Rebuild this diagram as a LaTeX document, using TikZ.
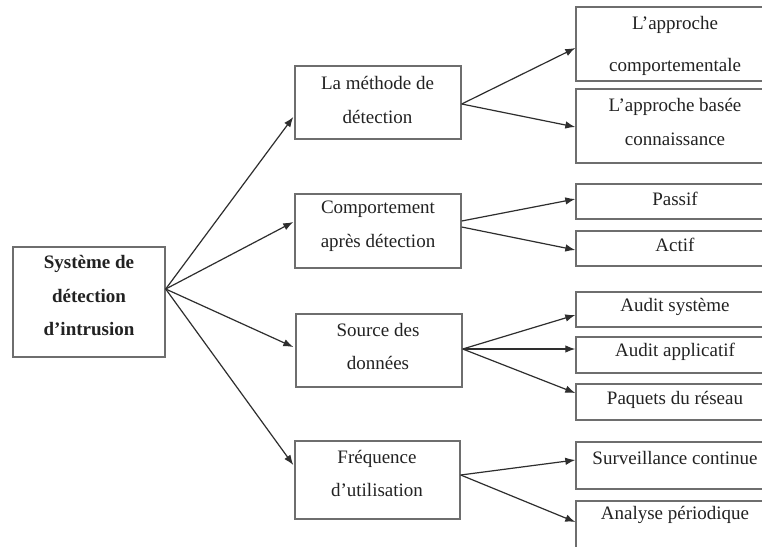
\documentclass[tikz,border=0pt]{standalone}
\usepackage{fontspec}
\setmainfont{Liberation Serif}
\usetikzlibrary{arrows.meta,calc}
\definecolor{boxline}{HTML}{6E6E6E}
\definecolor{arrowline}{HTML}{2E2E2E}
\definecolor{txtcol}{HTML}{222222}
\begin{document}
\begin{tikzpicture}[x=1pt,y=-1pt,
  box/.style={draw=boxline,line width=1.4pt,inner sep=0pt,fill=none},
  txt/.style={text=txtcol,align=center,inner sep=0pt,font=\fontsize{19}{34}\selectfont},
  btxt/.style={txt,font=\fontsize{19}{33.5}\selectfont\bfseries},
  conn/.style={draw=arrowline,line width=1.2pt,-{Latex[length=10pt,width=7.5pt]}}]
\clip (0,0) rectangle (762,546);
\fill[white] (0,0) rectangle (762,546);
% left box
\node[box,minimum width=152pt,minimum height=110pt] (L) at (89,302) {};
\node[btxt] (Lt) at (89,296) {Système de\\détection\\d’intrusion};
% middle boxes
\node[box,minimum width=166pt,minimum height=73pt] (M1) at (378,102.5) {};
\node[txt] (M1t) at (377.5,99.5) {La méthode de\\détection};
\node[box,minimum width=166pt,minimum height=74pt] (M2) at (378,231) {};
\node[txt] (M2t) at (378,226) {Comportement\\après détection};
\node[box,minimum width=166pt,minimum height=73pt] (M3) at (379,350.5) {};
\node[txt,font=\fontsize{19}{33}\selectfont] (M3t) at (378,346.5) {Source des\\données};
\node[box,minimum width=165pt,minimum height=78pt] (M4) at (377.5,480) {};
\node[txt,font=\fontsize{19}{33}\selectfont] (M4t) at (377,473.5) {Fréquence\\d’utilisation};
% right boxes
\node[box,minimum width=198pt,minimum height=74pt] (R1) at (675,44) {};
\node[txt,font=\fontsize{19}{42}\selectfont] (R1t) at (675,46) {L’approche\\comportementale};
\node[box,minimum width=198pt,minimum height=74pt] (R2) at (675,126) {};
\node[txt] (R2t) at (675,122) {L’approche basée\\connaissance};
\node[box,minimum width=198pt,minimum height=35pt] (R3) at (675,201.5) {};
\node[txt] (R3t) at (675,199) {Passif};
\node[box,minimum width=198pt,minimum height=35pt] (R4) at (675,248.5) {};
\node[txt] (R4t) at (675,245) {Actif};
\node[box,minimum width=198pt,minimum height=35pt] (R5) at (675,309.5) {};
\node[txt] (R5t) at (675,307) {Audit système};
\node[box,minimum width=198pt,minimum height=36pt] (R6) at (675,355) {};
\node[txt] (R6t) at (675,352) {Audit applicatif};
\node[box,minimum width=198pt,minimum height=36pt] (R7) at (675,402) {};
\node[txt] (R7t) at (675,400) {Paquets du réseau};
\node[box,minimum width=198pt,minimum height=47pt] (R8) at (675,465.5) {};
\node[txt] (R8t) at (675,458) {Surveillance continue};
\node[box,minimum width=198pt,minimum height=54pt] (R9) at (675,528) {};
\node[txt] (R9t) at (675,515) {Analyse périodique};
% connectors from left box
\draw[conn] ($(L.east)+(0,-13)$) -- ($(M1.west)+(-1,14.5)$);
\draw[conn] ($(L.east)+(0,-13)$) -- ($(M2.west)+(-1,-9)$);
\draw[conn] ($(L.east)+(0,-13)$) -- ($(M3.west)+(-2,-3.5)$);
\draw[conn] ($(L.east)+(0,-13)$) -- ($(M4.west)+(-1,-15)$);
% from M1
\draw[conn] ($(M1.east)+(0,1.5)$) -- ($(R1.west)+(0,4)$);
\draw[conn] ($(M1.east)+(0,1.5)$) -- ($(R2.west)+(0,1)$);
% from M2
\draw[conn] ($(M2.east)+(0,-10)$) -- ($(R3.west)+(0,-2.5)$);
\draw[conn] ($(M2.east)+(0,-4)$) -- ($(R4.west)+(0,1.5)$);
% from M3
\draw[conn] ($(M3.east)+(0,-1.5)$) -- ($(R5.west)+(0,5.5)$);
\draw[conn] ($(M3.east)+(0,-1.5)$) -- ($(R6.west)+(0,-6)$);
\draw[conn] ($(M3.east)+(0,-1.5)$) -- ($(R7.west)+(0,-9)$);
% from M4
\draw[conn] ($(M4.east)+(0,-5)$) -- ($(R8.west)+(0,-5.5)$);
\draw[conn] ($(M4.east)+(0,-5)$) -- ($(R9.west)+(0,-6)$);
\end{tikzpicture}
\end{document}
